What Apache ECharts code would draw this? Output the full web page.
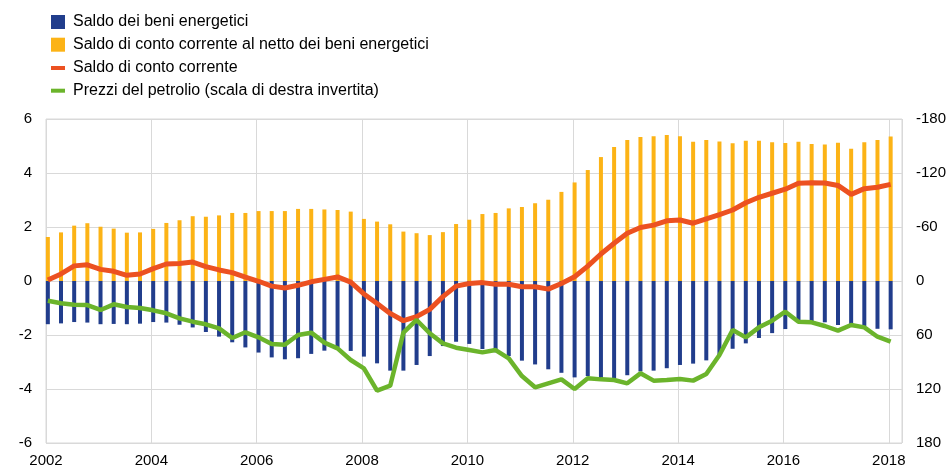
<!DOCTYPE html>
<html>
<head>
<meta charset="utf-8">
<script src="https://cdn.jsdelivr.net/npm/echarts@6/dist/echarts.min.js"></script>
<style>
  html, body { margin: 0; padding: 0; background: #fff; }
  #main { width: 949px; height: 473px; }
</style>
</head>
<body>
<div id="main"></div>
<script>
// trimestri dal 2002T1 al 2018T1
var firstYear = 2002;
var xTicks = [2002, 2004, 2006, 2008, 2010, 2012, 2014, 2016, 2018];

// saldo dei beni energetici
var energy = [
  -1.60, -1.57, -1.52, -1.54, -1.60, -1.59, -1.60, -1.58,
  -1.52, -1.54, -1.62, -1.72, -1.89, -2.06, -2.27, -2.46,
  -2.65, -2.83, -2.90, -2.86, -2.70, -2.58, -2.46, -2.59,
  -2.80, -3.05, -3.32, -3.32, -3.11, -2.78, -2.41, -2.25,
  -2.33, -2.52, -2.64, -2.78, -2.95, -3.09, -3.27, -3.40,
  -3.57, -3.52, -3.60, -3.60, -3.49, -3.35, -3.32, -3.23,
  -3.11, -3.06, -2.94, -2.74, -2.51, -2.31, -2.11, -1.93,
  -1.78, -1.51, -1.51, -1.53, -1.63, -1.67, -1.67, -1.77,
  -1.79
];

// saldo di conto corrente al netto dei beni energetici
var nonEnergy = [
  1.63, 1.80, 2.05, 2.14, 2.01, 1.94, 1.79, 1.80,
  1.93, 2.15, 2.25, 2.40, 2.38, 2.43, 2.52, 2.52,
  2.59, 2.59, 2.59, 2.67, 2.67, 2.65, 2.63, 2.57,
  2.30, 2.20, 2.10, 1.83, 1.77, 1.70, 1.81, 2.11,
  2.27, 2.48, 2.52, 2.69, 2.74, 2.88, 3.01, 3.30,
  3.65, 4.11, 4.59, 4.96, 5.22, 5.33, 5.36, 5.41,
  5.36, 5.16, 5.22, 5.17, 5.10, 5.19, 5.19, 5.14,
  5.11, 5.16, 5.07, 5.06, 5.12, 4.90, 5.14, 5.22,
  5.35
];

// saldo di conto corrente
var current = [
  0.04, 0.26, 0.56, 0.60, 0.43, 0.36, 0.21, 0.26,
  0.46, 0.63, 0.65, 0.70, 0.53, 0.41, 0.31, 0.14,
  -0.01, -0.19, -0.26, -0.16, -0.03, 0.06, 0.15, -0.04,
  -0.48, -0.83, -1.20, -1.47, -1.32, -1.05, -0.58, -0.19,
  -0.09, -0.06, -0.12, -0.12, -0.21, -0.21, -0.30, -0.09,
  0.16, 0.55, 1.00, 1.40, 1.77, 1.98, 2.07, 2.23,
  2.26, 2.14, 2.30, 2.46, 2.63, 2.90, 3.10, 3.25,
  3.40, 3.62, 3.64, 3.63, 3.54, 3.21, 3.42, 3.47,
  3.58
];

// prezzi del petrolio (scala di destra invertita)
var oil = [
  21.9, 24.8, 26.3, 26.7, 32.2, 25.9, 28.9, 30.0,
  32.6, 35.9, 41.5, 45.2, 48.1, 52.6, 63.3, 57.0,
  62.6, 70.0, 70.7, 60.0, 57.4, 68.5, 74.8, 87.8,
  97.0, 121.9, 116.3, 57.4, 43.3, 58.1, 69.3, 74.1,
  76.7, 79.3, 76.7, 85.9, 105.6, 118.1, 113.7, 109.3,
  120.0, 108.1, 109.3, 110.0, 113.7, 102.6, 110.7, 110.0,
  108.9, 110.7, 103.3, 82.2, 54.4, 62.6, 51.5, 44.1,
  34.1, 45.2, 45.9, 50.0, 55.2, 48.9, 51.5, 61.9,
  67.4
];

function pairs(arr) {
  return arr.map(function (v, i) { return [firstYear + i / 4 + 0.035, v]; });
}

var font = 'Liberation Sans, Arial, sans-serif';
var gridColor = '#d9d9d9';

var myChart = echarts.init(document.getElementById('main'));

var option = {
  animation: false,
  legend: [
    {
      orient: 'vertical', left: 46, top: 9, itemWidth: 14, itemHeight: 14, itemGap: 6.7,
      icon: 'rect',
      textStyle: { fontFamily: font, fontSize: 16, color: '#000', padding: [0, 0, 0, 3] },
      data: ['Saldo dei beni energetici', 'Saldo di conto corrente al netto dei beni energetici']
    },
    {
      orient: 'vertical', left: 46, top: 55, itemWidth: 14, itemHeight: 4, itemGap: 6.7,
      icon: 'rect',
      textStyle: { fontFamily: font, fontSize: 16, color: '#000', padding: [0, 0, 0, 3] },
      data: ['Saldo di conto corrente', 'Prezzi del petrolio (scala di destra invertita)']
    }
  ],
  grid: {
    left: 46, right: 47, top: 119, bottom: 30,
    show: true, borderColor: gridColor, borderWidth: 1
  },
  xAxis: {
    type: 'value', min: 2002, max: 2018.25, interval: 2,
    axisLine: { show: false }, axisTick: { show: false },
    splitLine: { show: true, lineStyle: { color: gridColor, width: 1 } },
    axisLabel: {
      fontFamily: font, fontSize: 15, color: '#000', margin: 10,
      formatter: function (v) { return xTicks.indexOf(v) >= 0 ? String(v) : ''; }
    }
  },
  yAxis: [
    {
      type: 'value', min: -6, max: 6, interval: 2,
      axisLine: { show: false }, axisTick: { show: false },
      splitLine: { lineStyle: { color: gridColor, width: 1 } },
      axisLabel: { fontFamily: font, fontSize: 15, color: '#000', margin: 14 }
    },
    {
      type: 'value', min: -180, max: 180, interval: 60, inverse: true,
      axisLine: { show: false }, axisTick: { show: false },
      splitLine: { show: false },
      axisLabel: { fontFamily: font, fontSize: 15, color: '#000', margin: 14 }
    }
  ],
  series: [
    {
      name: 'Saldo dei beni energetici', type: 'bar', barWidth: 4, barGap: '-100%',
      itemStyle: { color: '#213d8c' }, data: pairs(energy)
    },
    {
      name: 'Saldo di conto corrente al netto dei beni energetici', type: 'bar', barWidth: 4, barGap: '-100%',
      itemStyle: { color: '#fcb316' }, data: pairs(nonEnergy)
    },
    {
      name: 'Saldo di conto corrente', type: 'line', showSymbol: false, symbol: 'none',
      lineStyle: { color: '#ec5121', width: 5 }, itemStyle: { color: '#ec5121' },
      data: pairs(current), z: 4
    },
    {
      name: 'Prezzi del petrolio (scala di destra invertita)', type: 'line', yAxisIndex: 1,
      showSymbol: false, symbol: 'none',
      lineStyle: { color: '#6bb42b', width: 4.5 }, itemStyle: { color: '#6bb42b' },
      data: pairs(oil), z: 5
    }
  ]
};

myChart.setOption(option);
</script>
</body>
</html>
